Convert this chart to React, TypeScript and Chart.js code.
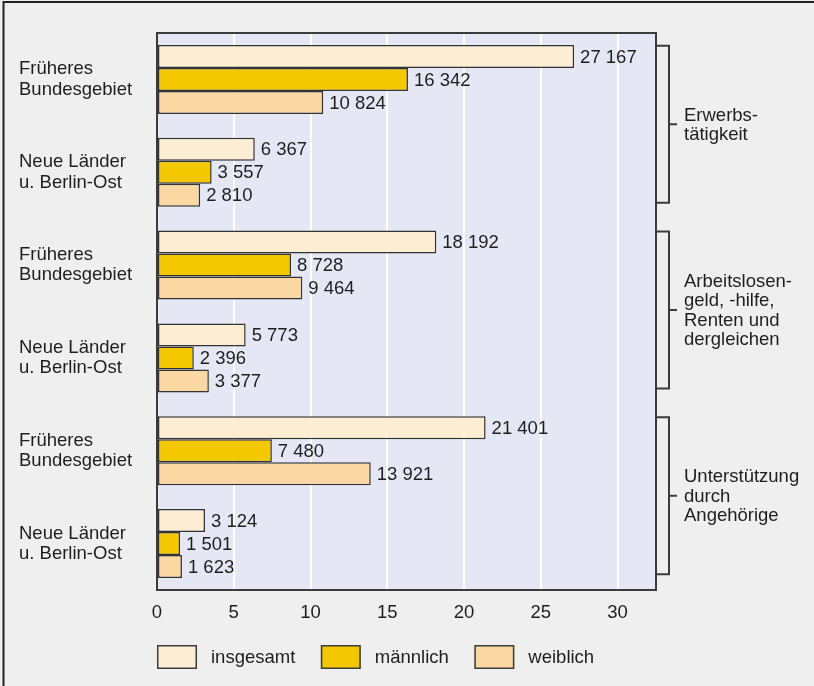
import React, { useEffect, useRef } from 'react';
import { Chart, registerables } from 'chart.js';

Chart.register(...registerables);

const categories: string[][] = [
  ['Früheres', 'Bundesgebiet'],
  ['Neue Länder', 'u. Berlin-Ost'],
  ['Früheres', 'Bundesgebiet'],
  ['Neue Länder', 'u. Berlin-Ost'],
  ['Früheres', 'Bundesgebiet'],
  ['Neue Länder', 'u. Berlin-Ost'],
];
const insgesamt = [27167, 6367, 18192, 5773, 21401, 3124];
const maennlich = [16342, 3557, 8728, 2396, 7480, 1501];
const weiblich = [10824, 2810, 9464, 3377, 13921, 1623];
const seriesNames = ['insgesamt', 'männlich', 'weiblich'];
const seriesColors = ['#fdeed3', '#f4c800', '#fbd7a4'];
const groupLabels: string[][] = [
  ['Erwerbs-', 'tätigkeit'],
  ['Arbeitslosen-', 'geld, -hilfe,', 'Renten und', 'dergleichen'],
  ['Unterstützung', 'durch', 'Angehörige'],
];
const xTickValues = [0, 5000, 10000, 15000, 20000, 25000, 30000];
const xMax = 32500;

const FONT = '"Liberation Sans", Arial, Helvetica, sans-serif';
const FS = 18.5;
const TEXT = '#1e1e1e';
const LINE = '#3c3c3c';

const fmt = (v: number) => String(v).replace(/\B(?=(\d{3})+(?!\d))/g, ' ');

const decorPlugin = {
  id: 'decor',
  beforeDraw(chart: any) {
    const { ctx, chartArea, width, height } = chart;
    ctx.save();
    ctx.fillStyle = '#efefef';
    ctx.fillRect(0, 0, width, height);
    ctx.strokeStyle = '#222';
    ctx.lineWidth = 2;
    ctx.beginPath();
    ctx.moveTo(3.5, height);
    ctx.lineTo(3.5, 2);
    ctx.lineTo(width, 2);
    ctx.stroke();
    ctx.fillStyle = '#e5e8f4';
    ctx.fillRect(chartArea.left, chartArea.top, chartArea.right - chartArea.left, chartArea.bottom - chartArea.top);
    ctx.restore();
  },
  afterDatasetsDraw(chart: any) {
    const { ctx, chartArea } = chart;
    ctx.save();
    ctx.strokeStyle = LINE;
    ctx.lineWidth = 2;
    ctx.beginPath();
    ctx.moveTo(chartArea.left, chartArea.top);
    ctx.lineTo(chartArea.right, chartArea.top);
    ctx.lineTo(chartArea.right, chartArea.bottom);
    ctx.stroke();

    ctx.font = `${FS}px ${FONT}`;
    ctx.fillStyle = TEXT;
    ctx.textAlign = 'left';
    ctx.textBaseline = 'middle';
    chart.data.datasets.forEach((ds: any, i: number) => {
      const meta = chart.getDatasetMeta(i);
      meta.data.forEach((bar: any, j: number) => {
        ctx.fillText(fmt(ds.data[j]), bar.x + 6, bar.y + 1);
      });
    });

    const yScale = chart.scales.y;
    const xV = chartArea.right + 13;
    groupLabels.forEach((lines, g) => {
      const c = (yScale.getPixelForValue(2 * g) + yScale.getPixelForValue(2 * g + 1)) / 2 - 1.5;
      const top = c - 78.5;
      const bot = c + 78.5;
      ctx.strokeStyle = LINE;
      ctx.lineWidth = 2;
      ctx.beginPath();
      ctx.moveTo(chartArea.right, top);
      ctx.lineTo(xV, top);
      ctx.lineTo(xV, bot);
      ctx.lineTo(chartArea.right, bot);
      ctx.moveTo(xV, c);
      ctx.lineTo(xV + 8, c);
      ctx.stroke();
      ctx.fillStyle = TEXT;
      ctx.font = `${FS}px ${FONT}`;
      const lh = 19.5;
      const start = c - ((lines.length - 1) * lh) / 2;
      lines.forEach((t, k) => ctx.fillText(t, xV + 15, start + k * lh + 1));
    });

    let x = chartArea.left;
    const ly = 645;
    seriesNames.forEach((name, i) => {
      ctx.fillStyle = seriesColors[i];
      ctx.fillRect(x, ly, 40, 24);
      ctx.strokeStyle = LINE;
      ctx.lineWidth = 1.5;
      ctx.strokeRect(x + 0.75, ly + 0.75, 38.5, 22.5);
      ctx.fillStyle = TEXT;
      ctx.font = `${FS}px ${FONT}`;
      ctx.fillText(name, x + 54, ly + 12 + 1);
      x = x + 54 + ctx.measureText(name).width + 25.5;
    });
    ctx.restore();
  },
};

export default function App() {
  const ref = useRef<HTMLCanvasElement | null>(null);
  useEffect(() => {
    document.body.style.margin = '0';
    const canvas = ref.current;
    if (!canvas) return;
    const mk = (data: number[], i: number) => ({
      label: seriesNames[i],
      data,
      backgroundColor: seriesColors[i],
      borderColor: '#333',
      borderWidth: 1.5,
      borderSkipped: false,
      categoryPercentage: 0.743,
      barPercentage: 1,
    });
    const chart = new Chart(canvas, {
      type: 'bar',
      data: {
        labels: categories,
        datasets: [mk(insgesamt, 0), mk(maennlich, 1), mk(weiblich, 2)],
      },
      options: {
        indexAxis: 'y',
        animation: false,
        responsive: true,
        maintainAspectRatio: false,
        layout: { padding: { top: 33, right: 158, bottom: 56, left: 19 } },
        plugins: { legend: { display: false }, tooltip: { enabled: false } },
        scales: {
          x: {
            min: 0,
            max: xMax,
            ticks: {
              stepSize: 5000,
              color: TEXT,
              font: { size: FS, family: FONT },
              padding: 12,
              maxRotation: 0,
              callback: (v: any) => String(Number(v) / 1000),
            },
            afterBuildTicks: (scale: any) => {
              scale.ticks = xTickValues.map((v) => ({ value: v }));
            },
            afterFit: (scale: any) => {
              scale.height = 40;
            },
            grid: {
              color: (c: any) => (c.tick && c.tick.value === 0 ? 'rgba(0,0,0,0)' : '#ffffff'),
              lineWidth: 2,
              drawTicks: false,
            },
            border: { color: LINE, width: 2 },
          },
          y: {
            grid: { display: false, drawTicks: false },
            border: { color: LINE, width: 2 },
            ticks: {
              crossAlign: 'far',
              color: TEXT,
              font: { size: FS, family: FONT, lineHeight: 1.1 },
            },
            afterFit: (scale: any) => {
              scale.width = 138;
            },
          },
        },
      },
      plugins: [decorPlugin],
    } as any);
    return () => chart.destroy();
  }, []);
  return (
    <div style={{ position: 'relative', width: 814, height: 686 }}>
      <canvas ref={ref} />
    </div>
  );
}
